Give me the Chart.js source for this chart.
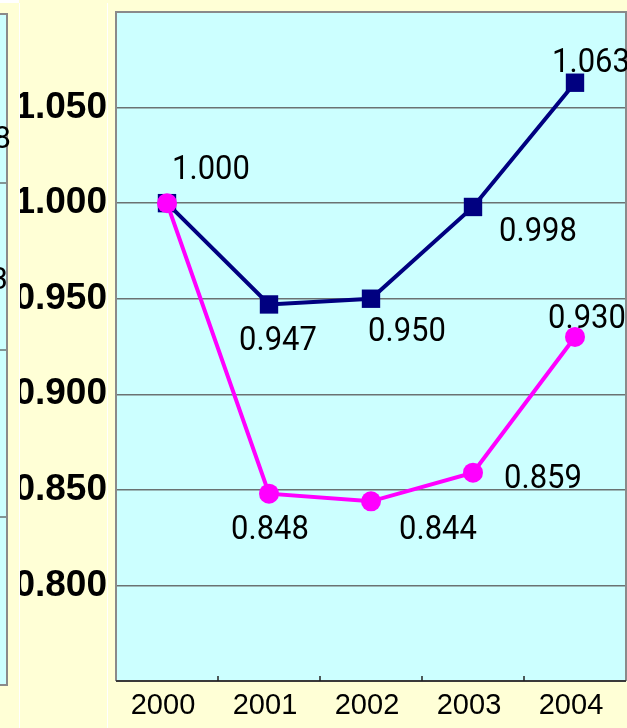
<!DOCTYPE html>
<html>
<head>
<meta charset="utf-8">
<style>
  html, body { margin: 0; padding: 0; background: #ffffd6; }
  #wrap { width: 627px; height: 728px; }
</style>
<script src="https://cdn.jsdelivr.net/npm/chart.js@4/dist/chart.umd.min.js"></script>
</head>
<body>
<div id="wrap"><canvas id="c" width="627" height="728"></canvas></div>
<script>
// Years on the category axis
const years = ['2000', '2001', '2002', '2003', '2004'];
// Index values (2000 = 1.000)
const seriesNavy = [1.000, 0.947, 0.950, 0.998, 1.063];
const seriesPink = [1.000, 0.848, 0.844, 0.859, 0.930];
// Value axis range and labelled ticks
const yMin = 0.75;
const yMax = 1.10;
const yStep = 0.05;
const yLabelled = [0.800, 0.850, 0.900, 0.950, 1.000, 1.050];
// Edge of the neighbouring panel: tail digits of its value labels
const neighbourTails = ['8', '3'];

// Where each value label sits relative to its point (px); null = not labelled
const navyLabelOffsets = [[44, -33], [9, 37], [36, 34], [65, 26], [16, -19]];
const pinkLabelOffsets = [null, [1, 37], [67, 29], [70, 7], [12, -17]];

const PLOT_BG = '#ccffff';
const PAGE_BG = '#ffffd6';
const GRID = '#6a7272';
const FRAME = '#8a8a8a';
const LABEL_FONT = '31px Roboto, "Liberation Sans", sans-serif';

const backdrop = {
  id: 'backdrop',
  beforeDraw(chart) {
    const { ctx, chartArea: a } = chart;
    ctx.save();
    ctx.fillStyle = PAGE_BG;
    ctx.fillRect(0, 0, chart.width, chart.height);
    ctx.fillStyle = PLOT_BG;
    ctx.fillRect(a.left, a.top, a.right - a.left, a.bottom - a.top);
    ctx.restore();
  },
  beforeDatasetsDraw(chart) {
    const { ctx, chartArea: a, scales: { x } } = chart;
    ctx.save();
    // frame around the plot
    ctx.strokeStyle = FRAME;
    ctx.lineWidth = 2;
    ctx.beginPath();
    ctx.moveTo(a.left, a.bottom);
    ctx.lineTo(a.left, a.top);
    ctx.lineTo(a.right, a.top);
    ctx.lineTo(a.right, a.bottom);
    ctx.stroke();
    // category axis line
    ctx.strokeStyle = '#3a3a3a';
    ctx.beginPath();
    ctx.moveTo(a.left, a.bottom);
    ctx.lineTo(a.right, a.bottom);
    ctx.stroke();
    // short inward tick marks between categories
    ctx.lineWidth = 1.5;
    ctx.strokeStyle = '#222';
    for (let i = 0; i < years.length - 1; i++) {
      const px = (x.getPixelForTick(i) + x.getPixelForTick(i + 1)) / 2;
      ctx.beginPath();
      ctx.moveTo(px, a.bottom);
      ctx.lineTo(px, a.bottom - 5);
      ctx.stroke();
    }
    ctx.restore();
  },
  afterDatasetsDraw(chart) {
    const { ctx } = chart;
    ctx.save();
    ctx.fillStyle = '#000';
    ctx.font = LABEL_FONT;
    ctx.textAlign = 'center';
    ctx.textBaseline = 'middle';
    chart.data.datasets.forEach((ds, di) => {
      const meta = chart.getDatasetMeta(di);
      meta.data.forEach((pt, i) => {
        const off = ds.labelOffsets[i];
        if (!off) return;
        ctx.save();
        ctx.translate(pt.x + off[0], pt.y + off[1]);
        ctx.scale(1, 1.1);
        ctx.fillText(ds.data[i].toFixed(3), 0, 0);
        ctx.restore();
      });
    });
    ctx.restore();
  },
  afterDraw(chart) {
    const { ctx } = chart;
    const H = chart.height;
    ctx.save();
    // strip between the neighbouring panel and the value labels
    ctx.fillStyle = PAGE_BG;
    ctx.fillRect(0, 0, 19, H);
    ctx.fillStyle = '#ffffff';
    ctx.fillRect(0, 0, 19, 3);
    // neighbouring panel edge
    ctx.fillStyle = PLOT_BG;
    ctx.fillRect(0, 14, 7, 671);
    ctx.strokeStyle = GRID;
    ctx.lineWidth = 1.5;
    [183, 350, 517].forEach(yy => {
      ctx.beginPath(); ctx.moveTo(0, yy); ctx.lineTo(7, yy); ctx.stroke();
    });
    ctx.strokeStyle = FRAME;
    ctx.lineWidth = 2;
    ctx.beginPath();
    ctx.moveTo(0, 14); ctx.lineTo(7, 14); ctx.lineTo(7, 685); ctx.lineTo(0, 685);
    ctx.stroke();
    ctx.fillStyle = '#000';
    ctx.font = LABEL_FONT;
    ctx.textAlign = 'right';
    ctx.textBaseline = 'middle';
    ctx.fillText(neighbourTails[0], 11, 140);
    ctx.fillText(neighbourTails[1], 8, 281);
    // thin white seams
    ctx.fillStyle = '#ffffff';
    ctx.fillRect(19, 3, 1, H - 3);
    ctx.fillRect(107, 3, 1, H - 3);
    ctx.restore();
  }
};

new Chart(document.getElementById('c'), {
  type: 'line',
  data: {
    labels: years,
    datasets: [
      {
        data: seriesNavy,
        labelOffsets: navyLabelOffsets,
        borderColor: '#000080',
        backgroundColor: '#000080',
        borderWidth: 4,
        pointStyle: 'rect',
        pointRadius: 13,
        pointBorderWidth: 0,
        tension: 0,
        order: 2
      },
      {
        data: seriesPink,
        labelOffsets: pinkLabelOffsets,
        borderColor: '#ff00ff',
        backgroundColor: '#ff00ff',
        borderWidth: 4,
        pointStyle: 'circle',
        pointRadius: 10,
        pointBorderWidth: 0,
        tension: 0,
        order: 1
      }
    ]
  },
  options: {
    responsive: false,
    animation: false,
    layout: { autoPadding: false, padding: { top: 12, right: 1, left: 0, bottom: 0 } },
    plugins: { legend: { display: false }, tooltip: { enabled: false } },
    scales: {
      x: {
        offset: true,
        grid: { display: false, drawTicks: false },
        border: { display: false },
        ticks: {
          color: '#000',
          padding: 8,
          labelOffset: -4,
          font: { family: '"Liberation Sans", Arial, sans-serif', size: 29 }
        },
        afterFit(s) { s.height = 47; s.paddingLeft = 0; s.paddingRight = 0; }
      },
      y: {
        min: yMin,
        max: yMax,
        grid: { color: GRID, lineWidth: 1.5, drawTicks: false },
        border: { display: false },
        ticks: {
          stepSize: yStep,
          color: '#000',
          padding: 9,
          font: { family: '"Liberation Sans", Arial, sans-serif', size: 37, weight: 'bold' },
          callback(v) {
            return yLabelled.some(t => Math.abs(t - v) < 1e-6) ? Number(v).toFixed(3) : '';
          }
        },
        afterFit(s) { s.width = 116; s.paddingTop = 0; s.paddingBottom = 0; }
      }
    }
  },
  plugins: [backdrop]
});
</script>
</body>
</html>
